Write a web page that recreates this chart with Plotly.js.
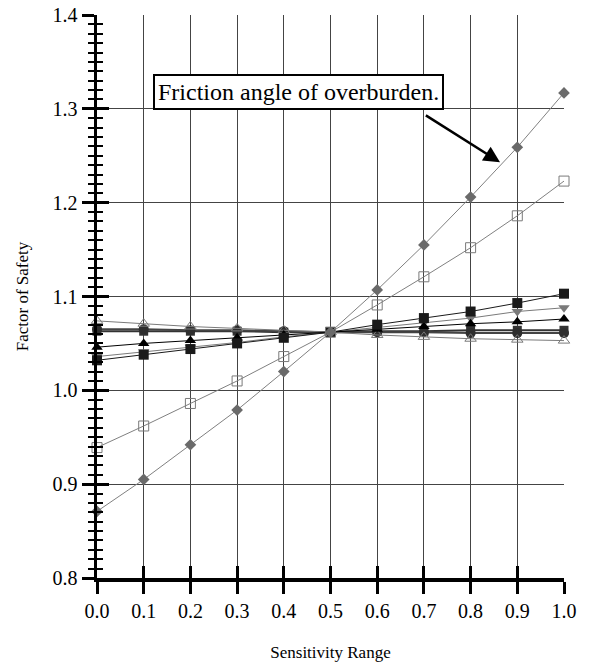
<!DOCTYPE html>
<html>
<head>
<meta charset="utf-8">
<script src="https://cdn.plot.ly/plotly-3.0.1.min.js"></script>
<style>html,body{margin:0;padding:0;background:#fff;}#chart{width:590px;height:664px;}</style>
</head>
<body>
<div id="chart"></div>
<script>
const sensitivity = [0.0, 0.1, 0.2, 0.3, 0.4, 0.5, 0.6, 0.7, 0.8, 0.9, 1.0];

const frictionOverburden = [0.871, 0.905, 0.942, 0.979, 1.020, 1.062, 1.107, 1.155, 1.206, 1.259, 1.317];
const openSquareSeries   = [0.939, 0.962, 0.986, 1.010, 1.036, 1.062, 1.091, 1.121, 1.152, 1.186, 1.223];
const grayInvTriSeries   = [1.036, 1.041, 1.046, 1.051, 1.057, 1.062, 1.067, 1.072, 1.077, 1.084, 1.088];
const blackSquareSeries  = [1.032, 1.038, 1.044, 1.050, 1.056, 1.062, 1.070, 1.077, 1.084, 1.093, 1.103];
const blackTriSeries     = [1.046, 1.050, 1.053, 1.056, 1.059, 1.062, 1.065, 1.068, 1.071, 1.073, 1.076];
const openTriSeries      = [1.074, 1.071, 1.068, 1.066, 1.064, 1.062, 1.059, 1.057, 1.055, 1.054, 1.053];
const darkCircleSeries   = [1.065, 1.065, 1.064, 1.064, 1.063, 1.062, 1.062, 1.062, 1.061, 1.061, 1.061];
const flatSquareSeries   = [1.063, 1.063, 1.063, 1.063, 1.062, 1.062, 1.063, 1.063, 1.064, 1.064, 1.064];

const xTickVals = [0.0, 0.1, 0.2, 0.3, 0.4, 0.5, 0.6, 0.7, 0.8, 0.9, 1.0];
const yTickVals = [0.8, 0.9, 1.0, 1.1, 1.2, 1.3, 1.4];

const FONT = "Liberation Serif";

function series(y, color, symbol, size, lineColor, lineOpts) {
  return {
    x: sensitivity, y: y, type: 'scatter', mode: 'lines+markers',
    line: Object.assign({color: lineColor, width: 1}, lineOpts || {}),
    marker: {color: color, symbol: symbol, size: size,
             line: {color: color, width: symbol.indexOf('open') >= 0 ? 1 : 0}},
    cliponaxis: false, showlegend: false, hoverinfo: 'skip'
  };
}

const traces = [
  series(grayInvTriSeries, '#7a7a7a', 'triangle-down', 10, '#7a7a7a'),
  series(flatSquareSeries, '#333333', 'square', 9, '#333333', {width: 2}),
  series(darkCircleSeries, '#2e2e2e', 'circle', 10, '#444444', {width: 2}),
  series(openTriSeries, '#7a7a7a', 'triangle-up-open', 10, '#7a7a7a'),
  series(blackTriSeries, '#000000', 'triangle-up', 10, '#000000'),
  series(blackSquareSeries, '#1a1a1a', 'square', 10, '#1a1a1a'),
  series(openSquareSeries, '#7a7a7a', 'square-open', 10, '#808080'),
  series(frictionOverburden, '#6a6a6a', 'diamond', 9, '#808080'),
  {x: [null], y: [null], xaxis: 'x2', yaxis: 'y2', type: 'scatter', mode: 'markers', showlegend: false, hoverinfo: 'skip'}
];

const axisCommon = {
  showline: true, linecolor: '#000', linewidth: 3.5,
  tickcolor: '#000', tickwidth: 3, ticklen: 12,
  gridcolor: '#444444', gridwidth: 1,
  zeroline: false, fixedrange: true
};

const layout = {
  width: 590, height: 664,
  margin: {l: 97, r: 26, t: 15, b: 86},
  paper_bgcolor: '#fff', plot_bgcolor: '#fff',
  font: {family: FONT, color: '#000', size: 18},
  xaxis: Object.assign({}, axisCommon, {
    range: [0, 1.0], tickvals: xTickVals, tickformat: '.1f', ticks: 'outside',
    showgrid: true,
    tickfont: {family: FONT, size: 20},
    title: {text: 'Sensitivity Range', font: {family: FONT, size: 17}, standoff: 26}
  }),
  yaxis: Object.assign({}, axisCommon, {
    range: [0.8, 1.4], tickvals: yTickVals, tickformat: '.1f', ticks: 'outside',
    showgrid: true,
    tickfont: {family: FONT, size: 20},
    minor: {dtick: 0.01, ticks: 'outside', ticklen: 6, tickwidth: 2, tickcolor: '#000', showgrid: false},
    title: {text: 'Factor of Safety', font: {family: FONT, size: 17}, standoff: 20}
  }),
  xaxis2: {
    overlaying: 'x', anchor: 'y', side: 'bottom', range: [0, 1.0], tickvals: xTickVals,
    ticks: 'inside', ticklen: 12, tickwidth: 3, tickcolor: '#000',
    showticklabels: false, showgrid: false, showline: false, zeroline: false, fixedrange: true
  },
  yaxis2: {
    overlaying: 'y', anchor: 'x', side: 'left', range: [0.8, 1.4], tickvals: yTickVals,
    ticks: 'inside', ticklen: 12, tickwidth: 3, tickcolor: '#000',
    minor: {dtick: 0.01, ticks: 'inside', ticklen: 6, tickwidth: 2, tickcolor: '#000', showgrid: false},
    showticklabels: false, showgrid: false, showline: false, zeroline: false, fixedrange: true
  },
  annotations: [
    {
      x: 0.4325, y: 1.3178, xref: 'x', yref: 'y',
      text: 'Friction angle of overburden.', showarrow: false,
      font: {family: FONT, size: 24, color: '#000'},
      bgcolor: '#fff', bordercolor: '#000', borderwidth: 2, borderpad: 3
    },
    {
      x: 0.863, y: 1.243, xref: 'x', yref: 'y',
      ax: 0.701, ay: 1.294, axref: 'x', ayref: 'y',
      text: '', showarrow: true, arrowhead: 2, arrowsize: 1.3, arrowwidth: 2.5, arrowcolor: '#000'
    }
  ]
};

Plotly.newPlot('chart', traces, layout, {displayModeBar: false, staticPlot: true});
</script>
</body>
</html>
